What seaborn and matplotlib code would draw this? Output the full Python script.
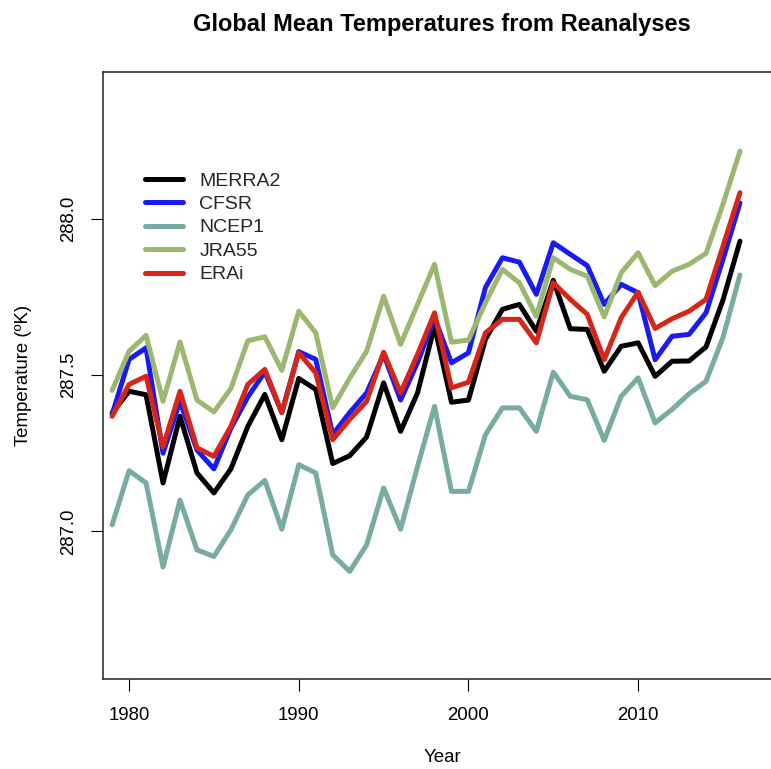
import numpy as np
import pandas as pd
import matplotlib
matplotlib.use("Agg")
import matplotlib.pyplot as plt
import seaborn as sns

# Yearly global mean temperature (K)
years = list(range(1979, 2017))

merra2 = [287.379, 287.448, 287.437, 287.155, 287.368, 287.187, 287.123, 287.200,
          287.336, 287.438, 287.293, 287.489, 287.454, 287.217, 287.242, 287.302,
          287.475, 287.320, 287.443, 287.656, 287.413, 287.420, 287.614, 287.710,
          287.726, 287.640, 287.803, 287.648, 287.646, 287.512, 287.592, 287.603,
          287.496, 287.544, 287.545, 287.590, 287.740, 287.928]

cfsr = [287.374, 287.550, 287.587, 287.250, 287.416, 287.260, 287.200, 287.330,
        287.430, 287.510, 287.380, 287.575, 287.550, 287.310, 287.380, 287.443,
        287.566, 287.420, 287.540, 287.683, 287.539, 287.571, 287.780, 287.875,
        287.861, 287.758, 287.923, 287.886, 287.850, 287.726, 287.790, 287.763,
        287.549, 287.624, 287.630, 287.699, 287.870, 288.050]

ncep1 = [287.021, 287.194, 287.155, 286.886, 287.100, 286.941, 286.920, 287.005,
         287.117, 287.163, 287.007, 287.213, 287.187, 286.925, 286.872, 286.957,
         287.139, 287.007, 287.208, 287.400, 287.128, 287.128, 287.309, 287.395,
         287.395, 287.320, 287.509, 287.432, 287.421, 287.291, 287.432, 287.491,
         287.347, 287.390, 287.440, 287.480, 287.620, 287.820]

jra55 = [287.451, 287.576, 287.627, 287.416, 287.606, 287.420, 287.382, 287.457,
         287.610, 287.622, 287.515, 287.704, 287.635, 287.395, 287.490, 287.576,
         287.752, 287.598, 287.726, 287.854, 287.605, 287.612, 287.731, 287.838,
         287.795, 287.688, 287.875, 287.838, 287.816, 287.686, 287.827, 287.891,
         287.786, 287.832, 287.854, 287.889, 288.046, 288.216]

erai = [287.368, 287.470, 287.496, 287.270, 287.448, 287.267, 287.240, 287.336,
        287.470, 287.518, 287.380, 287.571, 287.507, 287.293, 287.358, 287.416,
        287.573, 287.443, 287.566, 287.699, 287.459, 287.477, 287.635, 287.678,
        287.678, 287.603, 287.795, 287.742, 287.694, 287.549, 287.683, 287.765,
        287.649, 287.680, 287.704, 287.742, 287.912, 288.083]

series_names = ["MERRA2", "CFSR", "NCEP1", "JRA55", "ERAi"]
series_colors = ["#000000", "#1a1af5", "#78aca3", "#9cb870", "#d6261a"]

x_ticks = [1980, 1990, 2000, 2010]
y_ticks = [287.0, 287.5, 288.0]

# long-form table for seaborn
df = pd.DataFrame({
    "Year": years * 5,
    "Temperature": merra2 + cfsr + ncep1 + jra55 + erai,
    "Reanalysis": sum([[n] * len(years) for n in series_names], []),
})

sns.set_theme(style="white")
plt.rcParams["font.family"] = ["Liberation Sans", "DejaVu Sans"]

W, H = 771, 769
fig = plt.figure(figsize=(W / 100, H / 100), dpi=100)

# plot box in pixels (right edge runs off the picture, as in the original)
left_px, top_px, bottom_px = 103.3, 71.7, 679.0
ax = fig.add_axes([left_px / W, 1 - bottom_px / H, 1 - left_px / W, (bottom_px - top_px) / H])

sns.lineplot(
    data=df, x="Year", y="Temperature", hue="Reanalysis",
    hue_order=series_names, palette=dict(zip(series_names, series_colors)),
    linewidth=3.6, ax=ax, legend=False,
)

ax.set_xlim(1978.48, 2017.83)
ax.set_ylim(286.528, 288.47)

ax.set_xticks(x_ticks)
ax.set_yticks(y_ticks)
ax.set_yticklabels([f"{v:.1f}" for v in y_ticks], rotation=90, va="center")
ax.tick_params(axis="both", direction="out", length=8.8, width=0.8, color="black",
               labelsize=13.4, labelcolor="black", bottom=True, left=True)
ax.tick_params(axis="x", pad=11)
ax.tick_params(axis="y", pad=10)

for side in ["left", "top", "bottom"]:
    ax.spines[side].set_color("#333333")
    ax.spines[side].set_linewidth(1.2)
ax.spines["right"].set_visible(False)

ax.set_xlabel("")
ax.set_ylabel("Temperature (ºK)", fontsize=13.4, color="black")
ax.yaxis.set_label_coords(-(left_px - 32) / (W - left_px), 0.5, transform=ax.transAxes)

fig.text(442 / W, 1 - 758 / H, "Year", ha="center", va="center",
         fontsize=13.4, color="black")
fig.text(442 / W, 1 - 24 / H, "Global Mean Temperatures from Reanalyses",
         ha="center", va="center", fontsize=17, fontweight="bold", color="black")

# legend, drawn from the same colours
handles = [plt.Line2D([], [], color=c, linewidth=3.6) for c in series_colors]
ax.legend(handles, series_names, loc="upper left",
          bbox_to_anchor=(145 / W, 1 - 172 / H), bbox_transform=fig.transFigure,
          frameon=False, fontsize=14, handlelength=1.95, handletextpad=0.85,
          labelspacing=0.3, borderpad=0, borderaxespad=0)

plt.savefig("out.png", dpi=100)
plt.close()
